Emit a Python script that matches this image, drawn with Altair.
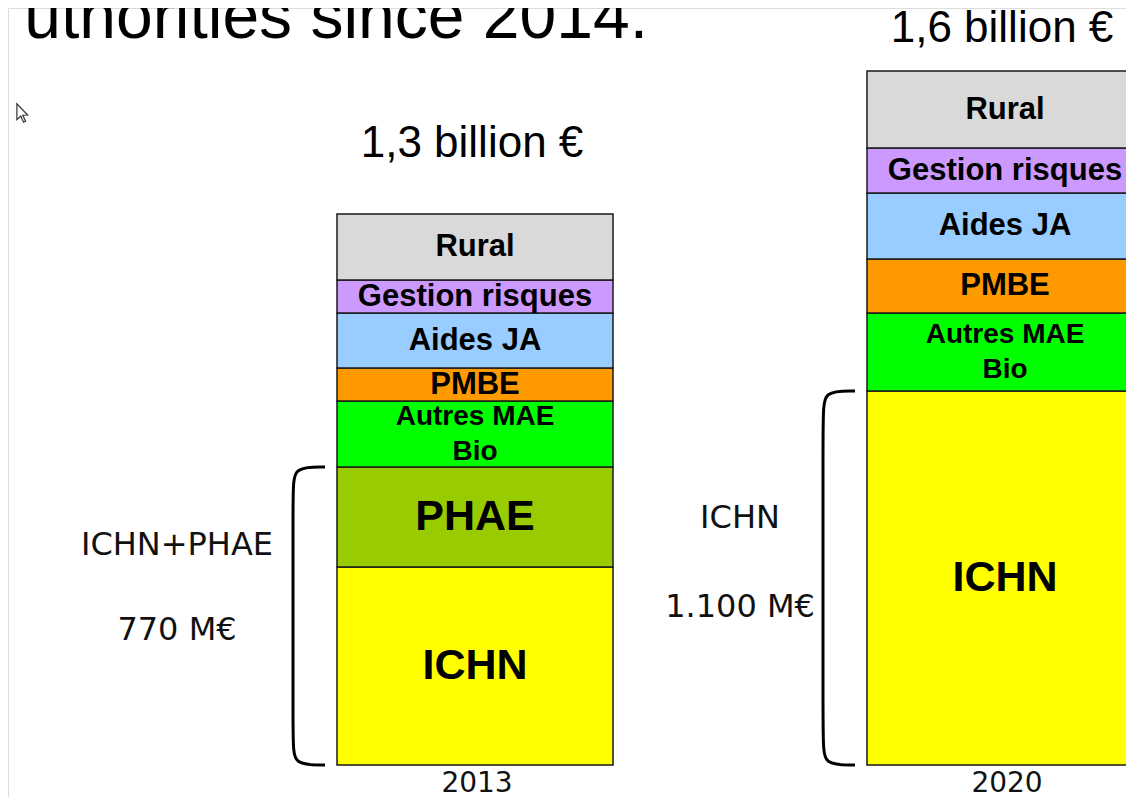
import altair as alt
import pandas as pd

# ---------------- data ----------------
YEARS = ["2013", "2020"]
# stacked from bottom to top
CATEGORIES = ["ICHN", "PHAE", "Autres MAE\nBio", "PMBE", "Aides JA", "Gestion risques", "Rural"]
# schematic segment heights (as drawn on the slide)
VALUES_2013 = [198, 100, 66, 33, 55, 33, 66]
VALUES_2020 = [374, 0, 78, 54, 66, 45, 77]
COLORS = ["#ffff00", "#99cc00", "#00ff00", "#ff9900", "#99ccff", "#cc99ff", "#d9d9d9"]
TOTAL_LABELS = ["1,3 billion €", "1,6 billion €"]
BRACKET_GROUPS = [["ICHN", "PHAE"], ["ICHN"]]
BRACKET_TEXT_TOP = ["ICHN+PHAE", "ICHN"]
BRACKET_TEXT_BOTTOM = ["770 M€", "1.100 M€"]
TITLE_TEXT = "uthorities since 2014."

# ---------------- layout (not data) ----------------
W, H = 1118, 789
X_DOMAIN = [8, 8 + W]
Y_DOMAIN = [757 - H, 757]
BAR_CENTER = {"2013": 475, "2020": 1005}
BAR_HALF = 138
LABEL_SIZE = {"ICHN": 43, "PHAE": 43, "Autres MAE\nBio": 28}
BRACKET_X = {"2013": (293, 325), "2020": (823, 855)}
SIDE_X = {"2013": 177, "2020": 740}
SIDE_Y = {"2013": (220, 135), "2020": (247, 158)}
TOTAL_POS = {"2013": (472, 608), "2020": (1002, 723)}

xs = alt.Scale(domain=X_DOMAIN, nice=False, zero=False)
ys = alt.Scale(domain=Y_DOMAIN, nice=False, zero=False)

rows = []
for year, vals in zip(YEARS, [VALUES_2013, VALUES_2020]):
    for i, (cat, v) in enumerate(zip(CATEGORIES, vals)):
        if v > 0:
            rows.append({
                "year": year, "category": cat, "order": i, "value": v,
                "x0": BAR_CENTER[year] - BAR_HALF, "x1": BAR_CENTER[year] + BAR_HALF,
                "fs": LABEL_SIZE.get(cat, 31),
                "lines": cat.count("\n") + 1,
            })
df = pd.DataFrame(rows)

base = alt.Chart(df).transform_stack(
    stack="value", groupby=["year"], as_=["y0", "y1"],
    sort=[alt.SortField("order", order="ascending")],
)

bars = base.mark_rect(stroke="#1a1a1a", strokeWidth=1.5, clip=True).encode(
    x=alt.X("x0:Q", scale=xs, axis=None),
    x2="x1:Q",
    y=alt.Y("y0:Q", scale=ys, axis=None),
    y2="y1:Q",
    color=alt.Color("category:N", scale=alt.Scale(domain=CATEGORIES, range=COLORS), legend=None),
)

# label centred in its segment (multi-line labels shifted up by half a line per extra line)
labels = base.transform_calculate(
    mid="(datum.y0 + datum.y1) / 2 + (datum.lines - 1) * 17.5",
    xc="(datum.x0 + datum.x1) / 2",
).mark_text(
    font="Liberation Sans", fontWeight="bold", lineBreak="\n", lineHeight=35,
    baseline="middle", align="center", color="#000000",
).encode(
    x=alt.X("xc:Q", scale=xs, axis=None),
    y=alt.Y("mid:Q", scale=ys, axis=None),
    text="category:N",
    size=alt.Size("fs:Q", scale=None),
)

# totals above the bars
tot_df = pd.DataFrame({
    "text": TOTAL_LABELS,
    "x": [TOTAL_POS[y][0] for y in YEARS],
    "y": [TOTAL_POS[y][1] for y in YEARS],
})
totals = alt.Chart(tot_df).mark_text(
    font="Liberation Sans", fontSize=44, baseline="alphabetic", align="center", color="#000000"
).encode(x=alt.X("x:Q", scale=xs, axis=None), y=alt.Y("y:Q", scale=ys, axis=None), text="text:N")

# year labels under the bars
yr_df = pd.DataFrame({"year": YEARS, "x": [BAR_CENTER[y] + 2 for y in YEARS], "y": [-19, -19]})
years = alt.Chart(yr_df).mark_text(
    font="DejaVu Sans", fontSize=28, baseline="middle", align="center", color="#111111"
).encode(x=alt.X("x:Q", scale=xs, axis=None), y=alt.Y("y:Q", scale=ys, axis=None), text="year:N")

# brackets: height = sum of bracketed segments
br_rows = []
for year, vals, grp in zip(YEARS, [VALUES_2013, VALUES_2020], BRACKET_GROUPS):
    top = sum(v for c, v in zip(CATEGORIES, vals) if c in grp)
    vx, ex = BRACKET_X[year]
    pts = [(ex, top), (vx, top), (vx, top - 22), (vx, 22), (vx, 0), (ex, 0)]
    for s, (px, py) in enumerate(pts):
        br_rows.append({"bracket": year, "seq": s, "x": px, "y": py})
br_df = pd.DataFrame(br_rows)
brackets = alt.Chart(br_df).mark_line(
    interpolate="basis", color="#000000", strokeWidth=3, clip=True
).encode(
    x=alt.X("x:Q", scale=xs, axis=None), y=alt.Y("y:Q", scale=ys, axis=None),
    detail="bracket:N", order="seq:Q",
)

side_rows = []
for year, t1, t2 in zip(YEARS, BRACKET_TEXT_TOP, BRACKET_TEXT_BOTTOM):
    side_rows.append({"text": t1, "x": SIDE_X[year], "y": SIDE_Y[year][0]})
    side_rows.append({"text": t2, "x": SIDE_X[year], "y": SIDE_Y[year][1]})
side = alt.Chart(pd.DataFrame(side_rows)).mark_text(
    font="DejaVu Sans", fontSize=32, baseline="middle", align="center", color="#111111"
).encode(x=alt.X("x:Q", scale=xs, axis=None), y=alt.Y("y:Q", scale=ys, axis=None), text="text:N")

title = alt.Chart(pd.DataFrame({"text": [TITLE_TEXT], "x": [648], "y": [727]})).mark_text(
    font="Liberation Sans", fontSize=66, baseline="alphabetic", align="right", color="#000000", clip=True
).encode(x=alt.X("x:Q", scale=xs, axis=None), y=alt.Y("y:Q", scale=ys, axis=None), text="text:N")

# mouse pointer left on the slide
cursor = alt.Chart(pd.DataFrame({"x": [22], "y": [651]})).mark_point(
    shape="M-0.5,-1 L-0.5,0.55 L-0.12,0.2 L0.15,0.8 L0.35,0.7 L0.08,0.12 L0.55,0.1 Z",
    size=420, filled=True, fill="#ffffff", stroke="#333333", strokeWidth=1.2, opacity=1,
).encode(x=alt.X("x:Q", scale=xs, axis=None), y=alt.Y("y:Q", scale=ys, axis=None))

chart = alt.layer(bars, labels, totals, years, brackets, side, title, cursor).properties(
    width=W, height=H, padding=0, autosize=alt.AutoSizeParams(type="none"),
).configure_view(strokeWidth=0, stroke="transparent").configure(background="#ffffff")

chart.save("out.html", embed_options={"renderer": "svg", "actions": False})
